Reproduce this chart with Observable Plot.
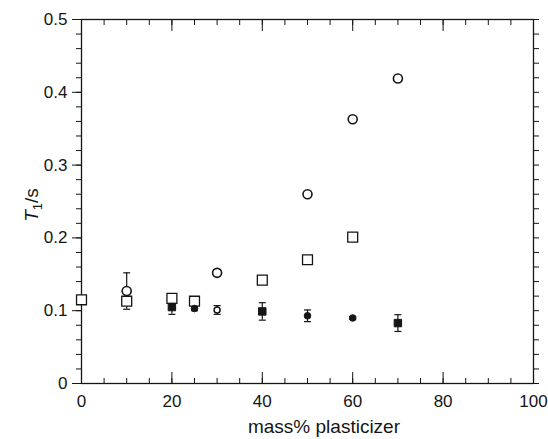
<!DOCTYPE html>
<html><head><meta charset="utf-8">
<script src="https://cdn.jsdelivr.net/npm/d3@7"></script>
<script src="https://cdn.jsdelivr.net/npm/@observablehq/plot@0.6"></script>
<style>body{margin:0;background:#fff}</style>
</head><body><div id="chart"></div>
<script>
// ---- data ----
const openCircleX = [10, 30, 50, 60, 70];
const openCircleY = [0.127, 0.152, 0.260, 0.363, 0.419];
const openCircleErr = [0.025, 0.004, 0, 0, 0];

const openSquareX = [0, 10, 20, 25, 40, 50, 60];
const openSquareY = [0.115, 0.113, 0.117, 0.113, 0.142, 0.170, 0.201];

const filledSquareX = [20, 40, 70];
const filledSquareY = [0.105, 0.099, 0.083];
const filledSquareErr = [0.010, 0.012, 0.0115];

const filledCircleX = [25, 50, 60];
const filledCircleY = [0.103, 0.093, 0.090];
const filledCircleErr = [0.003, 0.008, 0.002];

const smallCircleX = [30];
const smallCircleY = [0.101];
const smallCircleErr = [0.006];

const xMajor = [0, 20, 40, 60, 80, 100];
const xMinor = d3.range(0, 101, 5);
const yMajor = [0, 0.1, 0.2, 0.3, 0.4, 0.5];
const yMinor = d3.range(0, 0.5001, 0.02);

const xLabel = "mass% plasticizer";

// ---- build tables ----
const mk = (xs, ys, es) => xs.map((x, i) => ({x, y: ys[i], e: es ? es[i] : 0}));
const openCircles = mk(openCircleX, openCircleY, openCircleErr);
const openSquares = mk(openSquareX, openSquareY);
const filledSquares = mk(filledSquareX, filledSquareY, filledSquareErr);
const filledCircles = mk(filledCircleX, filledCircleY, filledCircleErr);
const smallCircles = mk(smallCircleX, smallCircleY, smallCircleErr);
const errs = [...openCircles, ...filledSquares, ...filledCircles, ...smallCircles].filter(d => d.e > 0);

const capSymbol = {draw(ctx, size) { const w = Math.sqrt(size / Math.PI); ctx.moveTo(-w, 0); ctx.lineTo(w, 0); }};
const ink = "#151515";
const blank = () => "";

const svg = Plot.plot({
  width: 548, height: 439,
  marginLeft: 81, marginRight: 15, marginTop: 19, marginBottom: 56,
  x: {domain: [0, 100]},
  y: {domain: [0, 0.5]},
  style: {fontFamily: "'Liberation Sans', Arial, Helvetica, sans-serif", fontSize: "17px", color: ink, background: "white"},
  marks: [
    Plot.axisX({ticks: xMinor, tickSize: -5, tickFormat: blank, label: null}),
    Plot.axisX({ticks: xMajor, tickSize: -11, tickFormat: blank, label: null}),
    Plot.axisX({ticks: xMajor, tickSize: 0, tickPadding: 11, tickFormat: d => String(d), label: null}),
    Plot.axisX({anchor: "top", ticks: xMinor, tickSize: -5, tickFormat: blank, label: null}),
    Plot.axisX({anchor: "top", ticks: xMajor, tickSize: -11, tickFormat: blank, label: null}),
    Plot.axisY({ticks: yMinor, tickSize: 5, tickFormat: blank, label: null}),
    Plot.axisY({ticks: yMajor, tickSize: 9, tickPadding: 5, tickFormat: d => d === 0 ? "0" : d3.format(".1f")(d), label: null}),
    Plot.axisY({anchor: "right", ticks: yMinor, tickSize: 5, tickFormat: blank, label: null}),
    Plot.frame({stroke: ink, strokeWidth: 1.3}),
    // error bars
    Plot.ruleX(errs, {x: "x", y1: d => d.y - d.e, y2: d => d.y + d.e, stroke: ink, strokeWidth: 1.2}),
    Plot.dot(errs, {x: "x", y: d => d.y - d.e, symbol: capSymbol, r: 3.5, stroke: ink, strokeWidth: 1.2}),
    Plot.dot(errs, {x: "x", y: d => d.y + d.e, symbol: capSymbol, r: 3.5, stroke: ink, strokeWidth: 1.2}),
    // series
    Plot.dot(openSquares, {x: "x", y: "y", symbol: "square", r: 5.6, fill: "white", stroke: ink, strokeWidth: 1.3}),
    Plot.dot(filledSquares, {x: "x", y: "y", symbol: "square", r: 4.2, fill: ink, stroke: ink, strokeWidth: 1}),
    Plot.dot(filledCircles, {x: "x", y: "y", r: 3.3, fill: ink, stroke: ink, strokeWidth: 1}),
    Plot.dot(smallCircles, {x: "x", y: "y", r: 3, fill: "white", stroke: ink, strokeWidth: 1.5}),
    Plot.dot(openCircles, {x: "x", y: "y", r: 4.5, fill: "white", stroke: ink, strokeWidth: 1.6})
  ]
});

const s = d3.select(svg);
s.append("text")
  .attr("x", 324).attr("y", 433)
  .attr("text-anchor", "middle")
  .attr("fill", ink)
  .style("font-size", "19px")
  .text(xLabel);

const yl = s.append("text")
  .attr("transform", "translate(38,205) rotate(-90)")
  .attr("text-anchor", "middle")
  .attr("fill", ink)
  .style("font-size", "19px");
yl.append("tspan").attr("font-style", "italic").text("T");
yl.append("tspan").attr("font-size", "13px").attr("dy", "4").text("1");
yl.append("tspan").attr("dy", "-4").text("/s");

document.getElementById("chart").append(svg);
</script>
</body></html>
